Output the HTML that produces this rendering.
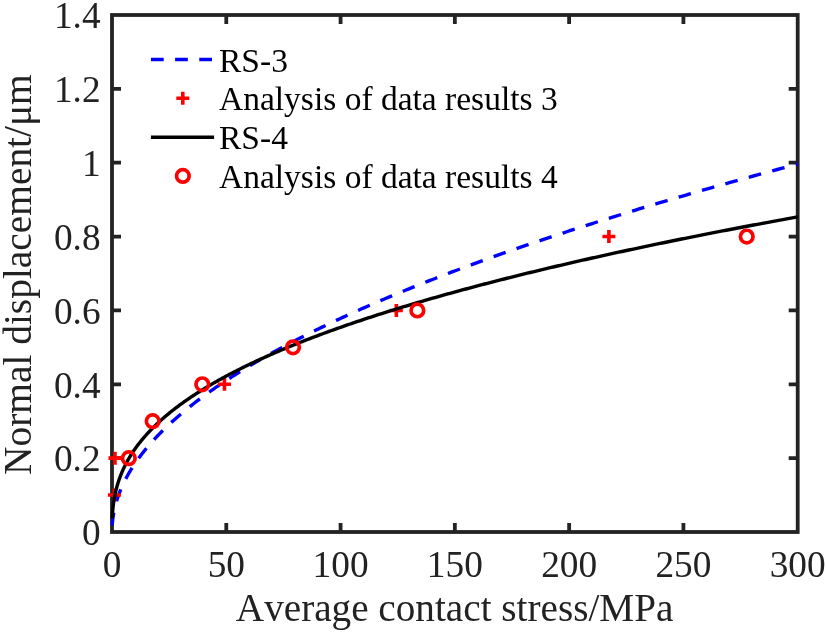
<!DOCTYPE html>
<html><head><meta charset="utf-8"><title>chart</title>
<style>
html,body{margin:0;padding:0;background:#fff;}
body{width:826px;height:632px;overflow:hidden;}
svg{display:block;will-change:transform;}
text{font-family:"Liberation Serif",serif;fill:#222222;font-kerning:none;}
</style></head><body>
<svg width="826" height="632" viewBox="0 0 826 632">
<rect x="0" y="0" width="826" height="632" fill="#ffffff"/>

<g stroke="#232323" stroke-width="3.8" fill="none" stroke-linecap="butt">
<rect x="112.0" y="15.0" width="685.7" height="517.0"/>
<path d="M226.28,532.0V523.0M226.28,15.0V24.0"/>
<path d="M340.57,532.0V523.0M340.57,15.0V24.0"/>
<path d="M454.85,532.0V523.0M454.85,15.0V24.0"/>
<path d="M569.13,532.0V523.0M569.13,15.0V24.0"/>
<path d="M683.42,532.0V523.0M683.42,15.0V24.0"/>
<path d="M112.0,458.14H121.0M797.7,458.14H788.7"/>
<path d="M112.0,384.29H121.0M797.7,384.29H788.7"/>
<path d="M112.0,310.43H121.0M797.7,310.43H788.7"/>
<path d="M112.0,236.57H121.0M797.7,236.57H788.7"/>
<path d="M112.0,162.71H121.0M797.7,162.71H788.7"/>
<path d="M112.0,88.86H121.0M797.7,88.86H788.7"/>
</g>
<g fill="none" stroke-linejoin="round">
<path d="M112.23,525.01 L112.23,525.01 L112.23,525.01 L112.23,525.01 L112.23,525.00 L112.23,525.00 L112.23,524.99 L112.23,524.98 L112.23,524.97 L112.23,524.95 L112.23,524.93 L112.24,524.90 L112.24,524.87 L112.24,524.83 L112.24,524.78 L112.25,524.73 L112.25,524.68 L112.26,524.61 L112.26,524.54 L112.27,524.46 L112.27,524.37 L112.28,524.28 L112.29,524.17 L112.30,524.06 L112.30,523.94 L112.31,523.81 L112.32,523.68 L112.34,523.53 L112.35,523.38 L112.36,523.22 L112.38,523.05 L112.39,522.87 L112.41,522.68 L112.43,522.49 L112.44,522.29 L112.46,522.08 L112.48,521.86 L112.51,521.63 L112.53,521.40 L112.55,521.16 L112.58,520.92 L112.61,520.67 L112.63,520.41 L112.66,520.14 L112.70,519.87 L112.73,519.59 L112.76,519.31 L112.80,519.02 L112.84,518.72 L112.87,518.42 L112.91,518.11 L112.96,517.80 L113.00,517.48 L113.04,517.16 L113.09,516.84 L113.14,516.50 L113.19,516.17 L113.24,515.82 L113.30,515.48 L113.35,515.13 L113.41,514.77 L113.47,514.41 L113.54,514.05 L113.60,513.68 L113.67,513.31 L113.73,512.93 L113.81,512.55 L113.88,512.17 L113.95,511.78 L114.03,511.39 L114.11,510.99 L114.19,510.59 L114.28,510.19 L114.36,509.78 L114.45,509.37 L114.54,508.96 L114.64,508.54 L114.73,508.12 L114.83,507.70 L114.93,507.27 L115.04,506.84 L115.14,506.41 L115.25,505.97 L115.36,505.53 L115.48,505.09 L115.60,504.64 L115.72,504.20 L115.84,503.74 L115.97,503.29 L116.09,502.83 L116.23,502.37 L116.36,501.91 L116.50,501.44 L116.64,500.97 L116.78,500.50 L116.93,500.02 L117.08,499.54 L117.23,499.06 L117.39,498.58 L117.55,498.09 L117.71,497.60 L117.88,497.11 L118.05,496.62 L118.22,496.12 L118.40,495.62 L118.58,495.12 L118.76,494.61 L118.95,494.11 L119.14,493.60 L119.33,493.08 L119.53,492.57 L119.73,492.05 L119.93,491.53 L120.14,491.01 L120.35,490.48 L120.57,489.96 L120.79,489.43 L121.01,488.90 L121.24,488.36 L121.47,487.82 L121.70,487.29 L121.94,486.74 L122.19,486.20 L122.43,485.65 L122.68,485.11 L122.94,484.55 L123.20,484.00 L123.46,483.45 L123.73,482.89 L124.00,482.33 L124.28,481.77 L124.56,481.20 L124.84,480.64 L125.13,480.07 L125.42,479.50 L125.72,478.92 L126.02,478.35 L126.33,477.77 L126.64,477.19 L126.96,476.61 L127.28,476.03 L127.60,475.44 L127.93,474.85 L128.26,474.26 L128.60,473.67 L128.95,473.08 L129.29,472.48 L129.65,471.88 L130.01,471.28 L130.37,470.68 L130.74,470.07 L131.11,469.47 L131.49,468.86 L131.87,468.25 L132.26,467.63 L132.65,467.02 L133.05,466.40 L133.45,465.78 L133.86,465.16 L134.27,464.54 L134.69,463.92 L135.11,463.29 L135.54,462.66 L135.98,462.03 L136.42,461.40 L136.86,460.77 L137.31,460.13 L137.77,459.49 L138.23,458.85 L138.70,458.21 L139.17,457.57 L139.65,456.92 L140.13,456.27 L140.62,455.62 L141.12,454.97 L141.62,454.32 L142.12,453.66 L142.64,453.01 L143.16,452.35 L143.68,451.69 L144.21,451.02 L144.75,450.36 L145.29,449.69 L145.84,449.03 L146.39,448.36 L146.95,447.69 L147.52,447.01 L148.09,446.34 L148.67,445.66 L149.25,444.98 L149.84,444.30 L150.44,443.62 L151.04,442.93 L151.65,442.25 L152.27,441.56 L152.89,440.87 L153.52,440.18 L154.15,439.49 L154.80,438.79 L155.44,438.10 L156.10,437.40 L156.76,436.70 L157.43,436.00 L158.10,435.30 L158.78,434.59 L159.47,433.88 L160.17,433.18 L160.87,432.47 L161.58,431.76 L162.29,431.04 L163.01,430.33 L163.74,429.61 L164.48,428.89 L165.22,428.17 L165.97,427.45 L166.73,426.73 L167.49,426.00 L168.26,425.28 L169.04,424.55 L169.83,423.82 L170.62,423.09 L171.42,422.35 L172.23,421.62 L173.04,420.88 L173.86,420.14 L174.69,419.40 L175.53,418.66 L176.37,417.92 L177.22,417.18 L178.08,416.43 L178.95,415.68 L179.82,414.93 L180.71,414.18 L181.59,413.43 L182.49,412.68 L183.40,411.92 L184.31,411.16 L185.23,410.40 L186.16,409.64 L187.09,408.88 L188.04,408.12 L188.99,407.35 L189.95,406.59 L190.91,405.82 L191.89,405.05 L192.87,404.28 L193.87,403.51 L194.86,402.73 L195.87,401.96 L196.89,401.18 L197.91,400.40 L198.94,399.62 L199.99,398.84 L201.03,398.05 L202.09,397.27 L203.16,396.48 L204.23,395.69 L205.31,394.90 L206.40,394.11 L207.50,393.32 L208.61,392.53 L209.73,391.73 L210.85,390.94 L211.99,390.14 L213.13,389.34 L214.28,388.54 L215.44,387.73 L216.61,386.93 L217.78,386.12 L218.97,385.31 L220.17,384.51 L221.37,383.70 L222.58,382.88 L223.80,382.07 L225.03,381.26 L226.27,380.44 L227.52,379.62 L228.78,378.80 L230.05,377.98 L231.32,377.16 L232.61,376.34 L233.90,375.51 L235.21,374.69 L236.52,373.86 L237.84,373.03 L239.17,372.20 L240.51,371.37 L241.86,370.54 L243.22,369.70 L244.59,368.86 L245.97,368.03 L247.36,367.19 L248.76,366.35 L250.17,365.51 L251.58,364.66 L253.01,363.82 L254.45,362.97 L255.89,362.13 L257.35,361.28 L258.81,360.43 L260.29,359.57 L261.78,358.72 L263.27,357.87 L264.78,357.01 L266.29,356.16 L267.82,355.30 L269.35,354.44 L270.90,353.58 L272.45,352.71 L274.02,351.85 L275.60,350.98 L277.18,350.12 L278.78,349.25 L280.38,348.38 L282.00,347.51 L283.63,346.64 L285.27,345.76 L286.91,344.89 L288.57,344.01 L290.24,343.14 L291.92,342.26 L293.61,341.38 L295.31,340.50 L297.02,339.61 L298.74,338.73 L300.48,337.84 L302.22,336.96 L303.97,336.07 L305.74,335.18 L307.51,334.29 L309.30,333.40 L311.10,332.50 L312.90,331.61 L314.72,330.71 L316.55,329.82 L318.39,328.92 L320.24,328.02 L322.11,327.12 L323.98,326.21 L325.87,325.31 L327.76,324.40 L329.67,323.50 L331.59,322.59 L333.52,321.68 L335.46,320.77 L337.41,319.86 L339.38,318.95 L341.35,318.03 L343.34,317.12 L345.34,316.20 L347.35,315.28 L349.37,314.36 L351.40,313.44 L353.44,312.52 L355.50,311.60 L357.57,310.67 L359.65,309.75 L361.74,308.82 L363.84,307.89 L365.95,306.96 L368.08,306.03 L370.22,305.10 L372.37,304.17 L374.53,303.23 L376.70,302.30 L378.89,301.36 L381.09,300.42 L383.30,299.48 L385.52,298.54 L387.75,297.60 L390.00,296.66 L392.26,295.71 L394.53,294.77 L396.81,293.82 L399.10,292.87 L401.41,291.92 L403.73,290.97 L406.06,290.02 L408.41,289.07 L410.76,288.11 L413.13,287.16 L415.52,286.20 L417.91,285.24 L420.32,284.28 L422.74,283.32 L425.17,282.36 L427.61,281.40 L430.07,280.44 L432.54,279.47 L435.02,278.50 L437.52,277.54 L440.03,276.57 L442.55,275.60 L445.09,274.63 L447.63,273.65 L450.19,272.68 L452.77,271.71 L455.35,270.73 L457.95,269.75 L460.56,268.77 L463.19,267.79 L465.83,266.81 L468.48,265.83 L471.15,264.85 L473.82,263.86 L476.52,262.88 L479.22,261.89 L481.94,260.90 L484.67,259.91 L487.42,258.92 L490.18,257.93 L492.95,256.94 L495.73,255.95 L498.53,254.95 L501.35,253.95 L504.17,252.96 L507.01,251.96 L509.87,250.96 L512.73,249.96 L515.62,248.96 L518.51,247.95 L521.42,246.95 L524.34,245.94 L527.28,244.94 L530.23,243.93 L533.19,242.92 L536.17,241.91 L539.16,240.90 L542.17,239.89 L545.19,238.87 L548.23,237.86 L551.28,236.84 L554.34,235.83 L557.42,234.81 L560.51,233.79 L563.61,232.77 L566.73,231.75 L569.87,230.72 L573.02,229.70 L576.18,228.67 L579.36,227.65 L582.55,226.62 L585.76,225.59 L588.98,224.56 L592.21,223.53 L595.46,222.50 L598.73,221.47 L602.01,220.43 L605.30,219.40 L608.61,218.36 L611.94,217.32 L615.28,216.29 L618.63,215.25 L622.00,214.21 L625.38,213.16 L628.78,212.12 L632.19,211.08 L635.62,210.03 L639.06,208.99 L642.52,207.94 L646.00,206.89 L649.49,205.84 L652.99,204.79 L656.51,203.74 L660.04,202.68 L663.59,201.63 L667.16,200.57 L670.74,199.52 L674.33,198.46 L677.94,197.40 L681.57,196.34 L685.21,195.28 L688.87,194.22 L692.54,193.16 L696.23,192.09 L699.93,191.03 L703.65,189.96 L707.39,188.90 L711.14,187.83 L714.91,186.76 L718.69,185.69 L722.49,184.62 L726.30,183.54 L730.13,182.47 L733.98,181.39 L737.84,180.32 L741.72,179.24 L745.61,178.16 L749.52,177.09 L753.45,176.00 L757.39,174.92 L761.35,173.84 L765.32,172.76 L769.31,171.67 L773.32,170.59 L777.34,169.50 L781.38,168.41 L785.44,167.33 L789.51,166.24 L793.60,165.14 L797.70,164.05" stroke="#0000ff" stroke-width="3.4" stroke-dasharray="12.75 11.55" stroke-dashoffset="0.2"/>
<g stroke="#ff0000" stroke-width="3.6">
<path d="M107.90,495.07H120.90M114.40,488.57V501.57"/>
<path d="M108.47,458.14H121.47M114.97,451.64V464.64"/>
<path d="M217.95,384.29H230.95M224.45,377.79V390.79"/>
<path d="M389.84,310.43H402.84M396.34,303.93V316.93"/>
<path d="M602.40,236.57H615.40M608.90,230.07V243.07"/>
</g>
<path d="M112.23,518.42 L112.23,518.42 L112.23,518.42 L112.23,518.41 L112.23,518.41 L112.23,518.40 L112.23,518.39 L112.23,518.37 L112.23,518.35 L112.23,518.32 L112.23,518.29 L112.24,518.25 L112.24,518.20 L112.24,518.14 L112.24,518.07 L112.25,518.00 L112.25,517.91 L112.26,517.81 L112.26,517.70 L112.27,517.58 L112.27,517.45 L112.28,517.30 L112.29,517.15 L112.30,516.98 L112.30,516.80 L112.31,516.61 L112.32,516.40 L112.34,516.19 L112.35,515.96 L112.36,515.72 L112.38,515.47 L112.39,515.21 L112.41,514.94 L112.43,514.66 L112.44,514.37 L112.46,514.07 L112.48,513.76 L112.51,513.44 L112.53,513.11 L112.55,512.77 L112.58,512.43 L112.61,512.07 L112.63,511.71 L112.66,511.35 L112.70,510.97 L112.73,510.59 L112.76,510.20 L112.80,509.81 L112.84,509.41 L112.87,509.00 L112.91,508.59 L112.96,508.18 L113.00,507.75 L113.04,507.33 L113.09,506.90 L113.14,506.46 L113.19,506.02 L113.24,505.58 L113.30,505.13 L113.35,504.68 L113.41,504.22 L113.47,503.76 L113.54,503.30 L113.60,502.84 L113.67,502.37 L113.73,501.90 L113.81,501.42 L113.88,500.94 L113.95,500.46 L114.03,499.98 L114.11,499.49 L114.19,499.00 L114.28,498.51 L114.36,498.02 L114.45,497.52 L114.54,497.02 L114.64,496.52 L114.73,496.02 L114.83,495.51 L114.93,495.00 L115.04,494.49 L115.14,493.98 L115.25,493.47 L115.36,492.95 L115.48,492.43 L115.60,491.91 L115.72,491.39 L115.84,490.87 L115.97,490.35 L116.09,489.82 L116.23,489.29 L116.36,488.76 L116.50,488.23 L116.64,487.70 L116.78,487.16 L116.93,486.63 L117.08,486.09 L117.23,485.55 L117.39,485.01 L117.55,484.47 L117.71,483.93 L117.88,483.38 L118.05,482.84 L118.22,482.29 L118.40,481.74 L118.58,481.19 L118.76,480.64 L118.95,480.09 L119.14,479.54 L119.33,478.98 L119.53,478.42 L119.73,477.87 L119.93,477.31 L120.14,476.75 L120.35,476.19 L120.57,475.63 L120.79,475.07 L121.01,474.50 L121.24,473.94 L121.47,473.37 L121.70,472.80 L121.94,472.24 L122.19,471.67 L122.43,471.10 L122.68,470.53 L122.94,469.95 L123.20,469.38 L123.46,468.81 L123.73,468.23 L124.00,467.66 L124.28,467.08 L124.56,466.50 L124.84,465.92 L125.13,465.34 L125.42,464.76 L125.72,464.18 L126.02,463.60 L126.33,463.02 L126.64,462.43 L126.96,461.85 L127.28,461.26 L127.60,460.67 L127.93,460.09 L128.26,459.50 L128.60,458.91 L128.95,458.32 L129.29,457.73 L129.65,457.13 L130.01,456.54 L130.37,455.95 L130.74,455.35 L131.11,454.76 L131.49,454.16 L131.87,453.57 L132.26,452.97 L132.65,452.37 L133.05,451.77 L133.45,451.17 L133.86,450.57 L134.27,449.97 L134.69,449.37 L135.11,448.77 L135.54,448.16 L135.98,447.56 L136.42,446.95 L136.86,446.35 L137.31,445.74 L137.77,445.14 L138.23,444.53 L138.70,443.92 L139.17,443.31 L139.65,442.70 L140.13,442.09 L140.62,441.48 L141.12,440.87 L141.62,440.25 L142.12,439.64 L142.64,439.03 L143.16,438.41 L143.68,437.80 L144.21,437.18 L144.75,436.57 L145.29,435.95 L145.84,435.33 L146.39,434.71 L146.95,434.09 L147.52,433.47 L148.09,432.85 L148.67,432.23 L149.25,431.61 L149.84,430.99 L150.44,430.37 L151.04,429.74 L151.65,429.12 L152.27,428.49 L152.89,427.87 L153.52,427.24 L154.15,426.62 L154.80,425.99 L155.44,425.36 L156.10,424.73 L156.76,424.10 L157.43,423.47 L158.10,422.84 L158.78,422.21 L159.47,421.58 L160.17,420.95 L160.87,420.32 L161.58,419.68 L162.29,419.05 L163.01,418.42 L163.74,417.78 L164.48,417.15 L165.22,416.51 L165.97,415.88 L166.73,415.24 L167.49,414.60 L168.26,413.96 L169.04,413.32 L169.83,412.69 L170.62,412.05 L171.42,411.41 L172.23,410.77 L173.04,410.12 L173.86,409.48 L174.69,408.84 L175.53,408.20 L176.37,407.55 L177.22,406.91 L178.08,406.27 L178.95,405.62 L179.82,404.98 L180.71,404.33 L181.59,403.68 L182.49,403.04 L183.40,402.39 L184.31,401.74 L185.23,401.09 L186.16,400.44 L187.09,399.79 L188.04,399.14 L188.99,398.49 L189.95,397.84 L190.91,397.19 L191.89,396.54 L192.87,395.89 L193.87,395.23 L194.86,394.58 L195.87,393.93 L196.89,393.27 L197.91,392.62 L198.94,391.96 L199.99,391.31 L201.03,390.65 L202.09,389.99 L203.16,389.34 L204.23,388.68 L205.31,388.02 L206.40,387.36 L207.50,386.70 L208.61,386.04 L209.73,385.38 L210.85,384.72 L211.99,384.06 L213.13,383.40 L214.28,382.74 L215.44,382.08 L216.61,381.41 L217.78,380.75 L218.97,380.09 L220.17,379.42 L221.37,378.76 L222.58,378.09 L223.80,377.43 L225.03,376.76 L226.27,376.10 L227.52,375.43 L228.78,374.76 L230.05,374.09 L231.32,373.43 L232.61,372.76 L233.90,372.09 L235.21,371.42 L236.52,370.75 L237.84,370.08 L239.17,369.41 L240.51,368.74 L241.86,368.07 L243.22,367.39 L244.59,366.72 L245.97,366.05 L247.36,365.38 L248.76,364.70 L250.17,364.03 L251.58,363.35 L253.01,362.68 L254.45,362.00 L255.89,361.33 L257.35,360.65 L258.81,359.97 L260.29,359.30 L261.78,358.62 L263.27,357.94 L264.78,357.26 L266.29,356.59 L267.82,355.91 L269.35,355.23 L270.90,354.55 L272.45,353.87 L274.02,353.19 L275.60,352.51 L277.18,351.82 L278.78,351.14 L280.38,350.46 L282.00,349.78 L283.63,349.09 L285.27,348.41 L286.91,347.73 L288.57,347.04 L290.24,346.36 L291.92,345.67 L293.61,344.99 L295.31,344.30 L297.02,343.62 L298.74,342.93 L300.48,342.24 L302.22,341.56 L303.97,340.87 L305.74,340.18 L307.51,339.49 L309.30,338.80 L311.10,338.11 L312.90,337.43 L314.72,336.74 L316.55,336.05 L318.39,335.35 L320.24,334.66 L322.11,333.97 L323.98,333.28 L325.87,332.59 L327.76,331.90 L329.67,331.20 L331.59,330.51 L333.52,329.82 L335.46,329.12 L337.41,328.43 L339.38,327.73 L341.35,327.04 L343.34,326.34 L345.34,325.65 L347.35,324.95 L349.37,324.26 L351.40,323.56 L353.44,322.86 L355.50,322.16 L357.57,321.47 L359.65,320.77 L361.74,320.07 L363.84,319.37 L365.95,318.67 L368.08,317.97 L370.22,317.27 L372.37,316.57 L374.53,315.87 L376.70,315.17 L378.89,314.47 L381.09,313.77 L383.30,313.06 L385.52,312.36 L387.75,311.66 L390.00,310.96 L392.26,310.25 L394.53,309.55 L396.81,308.84 L399.10,308.14 L401.41,307.44 L403.73,306.73 L406.06,306.03 L408.41,305.32 L410.76,304.61 L413.13,303.91 L415.52,303.20 L417.91,302.49 L420.32,301.79 L422.74,301.08 L425.17,300.37 L427.61,299.66 L430.07,298.95 L432.54,298.24 L435.02,297.53 L437.52,296.82 L440.03,296.11 L442.55,295.40 L445.09,294.69 L447.63,293.98 L450.19,293.27 L452.77,292.56 L455.35,291.85 L457.95,291.13 L460.56,290.42 L463.19,289.71 L465.83,289.00 L468.48,288.28 L471.15,287.57 L473.82,286.85 L476.52,286.14 L479.22,285.42 L481.94,284.71 L484.67,283.99 L487.42,283.28 L490.18,282.56 L492.95,281.85 L495.73,281.13 L498.53,280.41 L501.35,279.69 L504.17,278.98 L507.01,278.26 L509.87,277.54 L512.73,276.82 L515.62,276.10 L518.51,275.38 L521.42,274.66 L524.34,273.94 L527.28,273.22 L530.23,272.50 L533.19,271.78 L536.17,271.06 L539.16,270.34 L542.17,269.62 L545.19,268.90 L548.23,268.17 L551.28,267.45 L554.34,266.73 L557.42,266.01 L560.51,265.28 L563.61,264.56 L566.73,263.83 L569.87,263.11 L573.02,262.38 L576.18,261.66 L579.36,260.93 L582.55,260.21 L585.76,259.48 L588.98,258.76 L592.21,258.03 L595.46,257.30 L598.73,256.58 L602.01,255.85 L605.30,255.12 L608.61,254.39 L611.94,253.67 L615.28,252.94 L618.63,252.21 L622.00,251.48 L625.38,250.75 L628.78,250.02 L632.19,249.29 L635.62,248.56 L639.06,247.83 L642.52,247.10 L646.00,246.37 L649.49,245.64 L652.99,244.90 L656.51,244.17 L660.04,243.44 L663.59,242.71 L667.16,241.98 L670.74,241.24 L674.33,240.51 L677.94,239.78 L681.57,239.04 L685.21,238.31 L688.87,237.57 L692.54,236.84 L696.23,236.10 L699.93,235.37 L703.65,234.63 L707.39,233.90 L711.14,233.16 L714.91,232.42 L718.69,231.69 L722.49,230.95 L726.30,230.21 L730.13,229.48 L733.98,228.74 L737.84,228.00 L741.72,227.26 L745.61,226.52 L749.52,225.78 L753.45,225.04 L757.39,224.31 L761.35,223.57 L765.32,222.83 L769.31,222.09 L773.32,221.35 L777.34,220.60 L781.38,219.86 L785.44,219.12 L789.51,218.38 L793.60,217.64 L797.70,216.90" stroke="#000000" stroke-width="3.4"/>
<g stroke="#ff0000" stroke-width="3.7">
<circle cx="128.80" cy="458.14" r="6.3"/>
<circle cx="152.68" cy="421.21" r="6.3"/>
<circle cx="202.28" cy="384.29" r="6.3"/>
<circle cx="293.02" cy="347.36" r="6.3"/>
<circle cx="417.37" cy="310.43" r="6.3"/>
<circle cx="746.73" cy="236.57" r="6.3"/>
</g>
</g>
<g font-size="37.3">
<text x="112.00" y="577" text-anchor="middle">0</text>
<text x="226.28" y="577" text-anchor="middle">50</text>
<text x="340.57" y="577" text-anchor="middle">100</text>
<text x="454.85" y="577" text-anchor="middle">150</text>
<text x="569.13" y="577" text-anchor="middle">200</text>
<text x="683.42" y="577" text-anchor="middle">250</text>
<text x="797.70" y="577" text-anchor="middle">300</text>
<text x="100.6" y="545.30" text-anchor="end">0</text>
<text x="100.6" y="471.44" text-anchor="end">0.2</text>
<text x="100.6" y="397.59" text-anchor="end">0.4</text>
<text x="100.6" y="323.73" text-anchor="end">0.6</text>
<text x="100.6" y="249.87" text-anchor="end">0.8</text>
<text x="100.6" y="176.01" text-anchor="end">1</text>
<text x="100.6" y="102.16" text-anchor="end">1.2</text>
<text x="100.6" y="28.30" text-anchor="end">1.4</text>
</g>
<text x="454.6" y="620.7" font-size="39.2" text-anchor="middle">Average contact stress/MPa</text>
<text transform="translate(31.4,274.6) rotate(-90)" font-size="39.4" text-anchor="middle">Normal displacement/&#956;m</text>
<g fill="none">
<path d="M150.96,59.55H214" stroke="#0000ff" stroke-width="3.4" stroke-dasharray="12.75 11.4"/>
<path d="M150.9,137.25H214.1" stroke="#000" stroke-width="3.4"/>
<path d="M176.3,98.2H189.3M182.8,91.7V104.7" stroke="#ff0000" stroke-width="3.6"/>
<circle cx="182.85" cy="175.9" r="6.3" stroke="#ff0000" stroke-width="3.7"/>
</g>
<g font-size="33.5" style="fill:#000000">
<text x="219" y="71.5" style="fill:#000000">RS-3</text>
<text x="219" y="110.0" style="fill:#000000">Analysis of data results 3</text>
<text x="219" y="149.1" style="fill:#000000">RS-4</text>
<text x="219" y="187.6" style="fill:#000000">Analysis of data results 4</text>
</g>
</svg></body></html>
